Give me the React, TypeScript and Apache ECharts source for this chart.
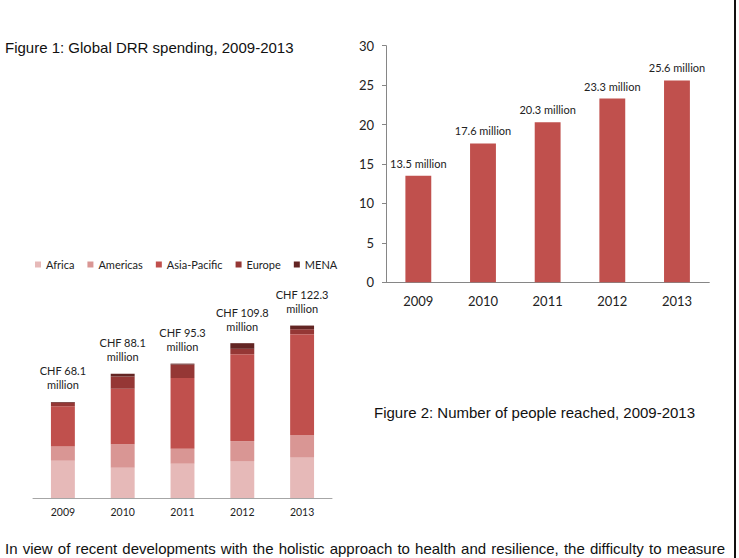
import React, { useEffect, useRef } from "react";
import * as echarts from "echarts";

// Figure 1: DRR spending by region (CHF million)
const years = ["2009", "2010", "2011", "2012", "2013"];
const regions = ["Africa", "Americas", "Asia-Pacific", "Europe", "MENA"];
const africa = [26.5, 21.5, 24.3, 26.2, 28.6];
const americas = [10.0, 16.6, 10.6, 14.2, 16.1];
const asiaPacific = [28.5, 39.3, 50.2, 61.6, 71.5];
const europe = [2.6, 8.7, 9.5, 3.8, 3.5];
const mena = [0.5, 2.0, 0.7, 4.0, 2.6];
const regionColors = ["#e6b9b8", "#d99694", "#c0504d", "#953735", "#632523"];

// Figure 2: people reached (million)
const peopleReached = [13.5, 17.6, 20.3, 23.3, 25.6];

const figure1Title = "Figure 1: Global DRR spending, 2009-2013";
const figure2Title = "Figure 2: Number of people reached, 2009-2013";
const bodyText =
  "In view of recent developments with the holistic approach to health and resilience, the difficulty to measure";

const chartFont = "Lato, 'Open Sans', sans-serif";
const docFont = "'Liberation Sans', Arial, sans-serif";

export default function App() {
  const ref = useRef<HTMLDivElement>(null);

  useEffect(() => {
    document.body.style.margin = "0";
    if (!ref.current) return;
    const chart = echarts.init(ref.current, null, { renderer: "svg" });

    const regionSeries = [africa, americas, asiaPacific, europe, mena];
    const totals = years.map((_, i) =>
      regionSeries.reduce((s, arr) => s + arr[i], 0)
    );

    // justified paragraph line: measure the words and spread them across the column
    const words = bodyText.split(" ");
    const ctx = document.createElement("canvas").getContext("2d");
    const fontSize = 15;
    let widths = words.map((w) => w.length * 7.5);
    if (ctx) {
      ctx.font = `${fontSize}px 'Liberation Sans', Arial, sans-serif`;
      widths = words.map((w) => ctx.measureText(w).width);
    }
    const lineLeft = 5;
    const lineRight = 725;
    const total = widths.reduce((a, b) => a + b, 0);
    const gap = (lineRight - lineLeft - total) / (words.length - 1);
    let cursor = lineLeft;
    const wordEls = words.map((w, i) => {
      const el = {
        type: "text",
        x: cursor,
        y: 541,
        style: {
          text: w,
          font: `${fontSize}px ${docFont}`,
          fill: "#111",
          verticalAlign: "top",
        },
      };
      cursor += widths[i] + gap;
      return el;
    });

    chart.setOption({
      animation: false,
      legend: {
        data: regions,
        left: 30,
        top: 254,
        itemWidth: 6,
        itemHeight: 6,
        itemGap: 13,
        icon: "rect",
        textStyle: { fontFamily: chartFont, fontSize: 11, color: "#222" },
      },
      grid: [
        { left: 33, top: 300.6, width: 299, height: 197.4 },
        { left: 386, top: 45.7, width: 323.3, height: 236.6 },
      ],
      xAxis: [
        {
          type: "category",
          gridIndex: 0,
          data: years,
          axisLine: { lineStyle: { color: "#a6a6a6" } },
          axisTick: { length: 5, lineStyle: { color: "#a6a6a6" } },
          axisLabel: { fontFamily: chartFont, fontSize: 10.5, color: "#222", margin: 8 },
        },
        {
          type: "category",
          gridIndex: 1,
          data: years,
          axisLine: { lineStyle: { color: "#868686" } },
          axisTick: { length: 4, lineStyle: { color: "#868686" } },
          axisLabel: { fontFamily: chartFont, fontSize: 13, color: "#222", margin: 12 },
        },
      ],
      yAxis: [
        { type: "value", gridIndex: 0, min: 0, max: 140, show: false },
        {
          type: "value",
          gridIndex: 1,
          min: 0,
          max: 30,
          interval: 5,
          axisLine: { show: true, lineStyle: { color: "#868686" } },
          axisTick: { show: true, length: 4, lineStyle: { color: "#868686" } },
          splitLine: { show: false },
          axisLabel: { fontFamily: chartFont, fontSize: 13, color: "#222", margin: 12 },
        },
      ],
      series: [
        ...regionSeries.map((arr, k) => ({
          name: regions[k],
          type: "bar",
          stack: "spend",
          xAxisIndex: 0,
          yAxisIndex: 0,
          barWidth: "40%",
          data: arr,
          itemStyle: { color: regionColors[k] },
          label:
            k === regionSeries.length - 1
              ? {
                  show: true,
                  position: "top",
                  distance: 10,
                  fontFamily: chartFont,
                  fontSize: 11,
                  lineHeight: 14,
                  color: "#222",
                  formatter: (p: any) => `CHF ${totals[p.dataIndex].toFixed(1)}\nmillion`,
                }
              : { show: false },
        })),
        {
          name: "People reached",
          type: "bar",
          xAxisIndex: 1,
          yAxisIndex: 1,
          barWidth: "40%",
          data: peopleReached,
          itemStyle: { color: "#c0504d" },
          label: {
            show: true,
            position: "top",
            distance: 7,
            fontFamily: chartFont,
            fontSize: 11,
            color: "#222",
            formatter: (p: any) => `${p.value} million`,
          },
        },
      ],
      graphic: [
        {
          type: "text",
          x: 5,
          y: 47,
          style: {
            text: figure1Title,
            font: `15px ${docFont}`,
            fill: "#111",
            verticalAlign: "middle",
          },
        },
        {
          type: "text",
          x: 374,
          y: 412,
          style: {
            text: figure2Title,
            font: `15px ${docFont}`,
            fill: "#111",
            verticalAlign: "middle",
          },
        },
        {
          type: "line",
          shape: { x1: 735, y1: 0, x2: 735, y2: 558 },
          style: { stroke: "#111", lineWidth: 2 },
        },
        ...wordEls,
      ],
    });

    return () => chart.dispose();
  }, []);

  return <div ref={ref} style={{ width: 739, height: 558 }} />;
}
